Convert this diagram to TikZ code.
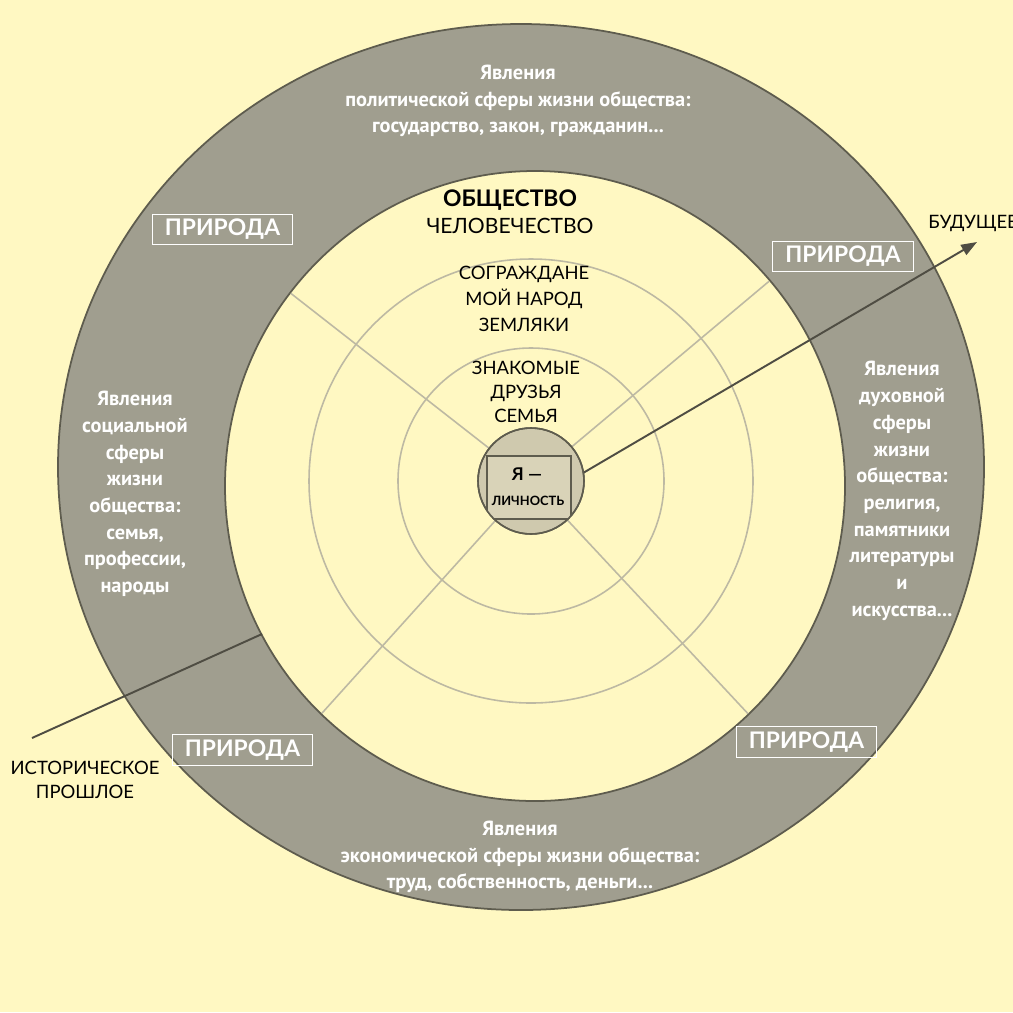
\documentclass[tikz,border=0pt]{standalone}
\usepackage{fontspec}
\setmainfont{PT Sans}
\newfontfamily\labfont{Lato}
\usetikzlibrary{arrows.meta}
\definecolor{bgyellow}{HTML}{FFF8C2}
\definecolor{ringgray}{HTML}{A09E8F}
\definecolor{ringedge}{HTML}{5E5C4E}
\definecolor{thinline}{HTML}{BDB9A3}
\definecolor{corefill}{HTML}{CFC9AE}
\definecolor{boxfill}{HTML}{D9D3B8}
\definecolor{axisline}{HTML}{4F4D43}
\tikzset{
 wtext/.style={text=white, font=\bfseries\fontsize{11.6}{15.2}\selectfont, align=center, inner sep=0pt},
 ktext/.style={text=black, font=\labfont\fontsize{10.5}{15}\selectfont, align=center, inner sep=0pt},
 naturebox/.style={draw=white, line width=0.6pt, text=white, font=\labfont\bfseries\fontsize{13}{13}\selectfont, minimum width=80pt, minimum height=17.5pt, inner sep=0pt},
 ringline/.style={draw=thinline, line width=0.9pt},
 axis/.style={draw=axisline, line width=1.1pt},
}
\begin{document}
\begin{tikzpicture}[x=0.02cm,y=-0.02cm]
\clip (0,0) rectangle (1013,1012);
\fill[bgyellow] (0,0) rectangle (1013,1012);
\filldraw[fill=ringgray, draw=ringedge, line width=1pt] (521,467) ellipse [x radius=463, y radius=443];
\filldraw[fill=bgyellow, draw=ringedge, line width=1pt] (535,486) ellipse [x radius=310, y radius=315];
\coordinate (c) at (531,481);
\begin{scope}
 \clip (535,486) ellipse [x radius=309, y radius=314];
 \draw[ringline] (c) circle [radius=133];
 \draw[ringline] (c) circle [radius=222];
 \foreach \a in {-142,-40,-228,-313} \draw[ringline] (c) -- ++(\a:400);
\end{scope}
% axes
\coordinate (pastend) at (32,738);
\coordinate (pastin) at (262,634);
\draw[axis] (pastend) -- (pastin);
\coordinate (futstart) at (583,473);
\coordinate (futtip) at (977,242);
\draw[axis, -{Triangle[length=9pt,width=6.5pt]}] (futstart) -- (futtip);
% centre
\filldraw[fill=corefill, draw=ringedge, line width=0.9pt] (c) circle [radius=53];
\begin{scope}
 \clip (c) circle [radius=53];
 \node[draw=ringedge, line width=0.9pt, fill=boxfill, minimum width=47.6pt, minimum height=35.7pt, inner sep=0pt] (me) at (529,487.5) {};
\end{scope}
\draw[ringedge, line width=0.9pt] (c) circle [radius=53];
\node[font=\labfont\bfseries\fontsize{10}{10}\selectfont, inner sep=0pt] (ya) at (527,474) {Я —};
\node[font=\labfont\bfseries\fontsize{7.3}{7.3}\selectfont, inner sep=0pt] (lichn) at (528,501) {ЛИЧНОСТЬ};
% white texts
\node[wtext] (pol) at (518,101) {Явления\\политической сферы жизни общества:\\государство, закон, гражданин...};
\node[wtext] (soc) at (135,494) {Явления\\социальной\\сферы\\жизни\\общества:\\семья,\\профессии,\\народы};
\node[wtext] (dux) at (902,491) {Явления\\духовной\\сферы\\жизни\\общества:\\религия,\\памятники\\литературы\\и\\искусства...};
\node[wtext] (eco) at (520,857) {Явления\\экономической сферы жизни общества:\\труд, собственность, деньги...};
% black texts
\node[font=\labfont\bfseries\fontsize{13}{13}\selectfont, inner sep=0pt] (obsh) at (510,200) {ОБЩЕСТВО};
\node[ktext, font=\labfont\fontsize{12}{12}\selectfont] (chel) at (510,226) {ЧЕЛОВЕЧЕСТВО};
\node[ktext] (sogr) at (524,299) {СОГРАЖДАНЕ\\МОЙ НАРОД\\ЗЕМЛЯКИ};
\node[ktext, font=\labfont\fontsize{10.5}{13.5}\selectfont] (znak) at (526,392) {ЗНАКОМЫЕ\\ДРУЗЬЯ\\СЕМЬЯ};
\node[ktext, anchor=west] (fut) at (928,223) {БУДУЩЕЕ};
\node[ktext, font=\labfont\fontsize{10.5}{13.6}\selectfont] (past) at (85,780) {ИСТОРИЧЕСКОЕ\\ПРОШЛОЕ};
% nature boxes
\node[naturebox] (n1) at (222.5,229.5) {ПРИРОДА};
\node[naturebox] (n2) at (843,256.5) {ПРИРОДА};
\node[naturebox] (n3) at (242.5,750) {ПРИРОДА};
\node[naturebox] (n4) at (806.5,742) {ПРИРОДА};
\end{tikzpicture}
\end{document}
